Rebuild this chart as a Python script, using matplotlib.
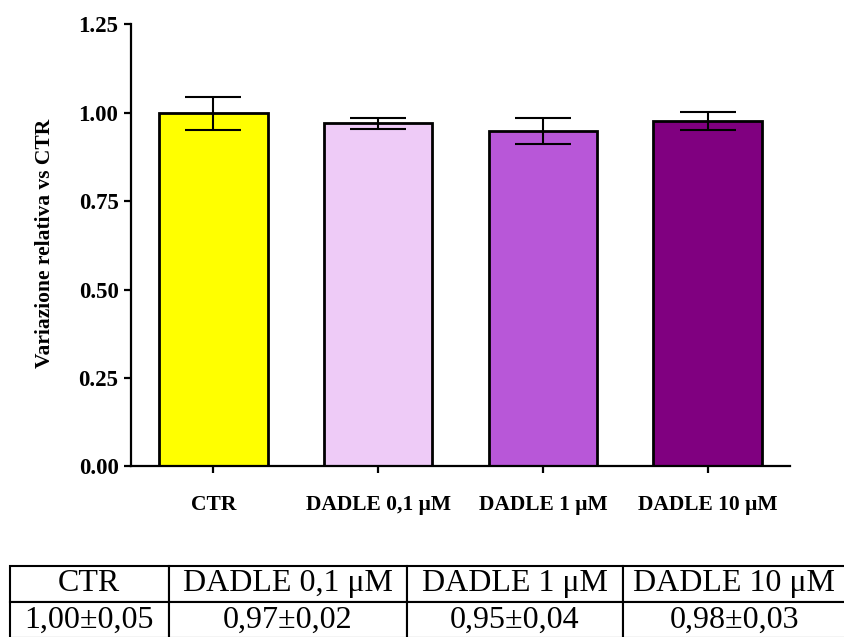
import matplotlib
matplotlib.use("Agg")
import matplotlib.pyplot as plt

# data
groups = ["CTR", "DADLE 0,1 \u03bcM", "DADLE 1 \u03bcM", "DADLE 10 \u03bcM"]
means = [0.998, 0.970, 0.948, 0.977]
errors = [0.047, 0.015, 0.036, 0.025]
colors = ["#FFFF00", "#EECBF7", "#B857D8", "#800080"]
yticks = [0.00, 0.25, 0.50, 0.75, 1.00, 1.25]
table_values = ["1,00\u00b10,05", "0,97\u00b10,02", "0,95\u00b10,04", "0,98\u00b10,03"]

W, H = 844, 637
SERIF = "Liberation Serif"


def main() -> None:
    fig = plt.figure(figsize=(W / 100, H / 100), dpi=100)
    fig.patch.set_facecolor("white")

    # plot area in pixel coords: x 131..790, y 24..466 (from top)
    ax = fig.add_axes([131 / W, 1 - 466.3 / H, (790 - 131) / W, (466.3 - 24.4) / H])
    x = list(range(len(groups)))
    ax.bar(x, means, width=0.66, color=colors, edgecolor="black", linewidth=2.0, zorder=2)
    ax.errorbar(x, means, yerr=errors, fmt="none", ecolor="black", elinewidth=1.5,
                capsize=20, capthick=1.5, zorder=3)

    ax.set_xlim(-0.5, 3.5)
    ax.set_ylim(0, 1.25)
    ax.set_yticks(yticks)
    ax.set_yticklabels([f"{v:.2f}" for v in yticks])
    ax.set_xticks(x)
    ax.set_xticklabels(groups)
    for sp in ("top", "right"):
        ax.spines[sp].set_visible(False)
    for sp in ("left", "bottom"):
        ax.spines[sp].set_linewidth(1.6)
    ax.tick_params(axis="both", direction="out", length=5, width=1.6)
    ax.tick_params(axis="y", pad=4)
    ax.tick_params(axis="x", pad=16)
    for lab in ax.get_xticklabels():
        lab.set_fontfamily(SERIF)
        lab.set_fontweight("bold")
        lab.set_fontsize(15.5)
    for lab in ax.get_yticklabels():
        lab.set_fontfamily(SERIF)
        lab.set_fontweight("bold")
        lab.set_fontsize(16.5)

    fig.text(45 / W, 1 - 243 / H, "Variazione relativa vs CTR", rotation=90,
             ha="center", va="center", fontfamily=SERIF, fontweight="bold", fontsize=15.5)

    # summary table under the chart
    left, right, top, bottom = 10, 846, 566, 638
    col_px = [158.5, 238.5, 215.5, 223.5]
    tax = fig.add_axes([left / W, 1 - bottom / H, (right - left) / W, (bottom - top) / H])
    tax.axis("off")
    tot = sum(col_px)
    tbl = tax.table(cellText=[groups, table_values], cellLoc="center",
                    colWidths=[c / tot for c in col_px], bbox=[0, 0, 1, 1])
    tbl.auto_set_font_size(False)
    for (r, c), cell in tbl.get_celld().items():
        cell.set_linewidth(1.5)
        cell.set_edgecolor("black")
        cell.get_text().set_fontfamily(SERIF)
        cell.get_text().set_fontsize(23)

    fig.savefig("out.png", dpi=100)


if __name__ == "__main__":
    main()
